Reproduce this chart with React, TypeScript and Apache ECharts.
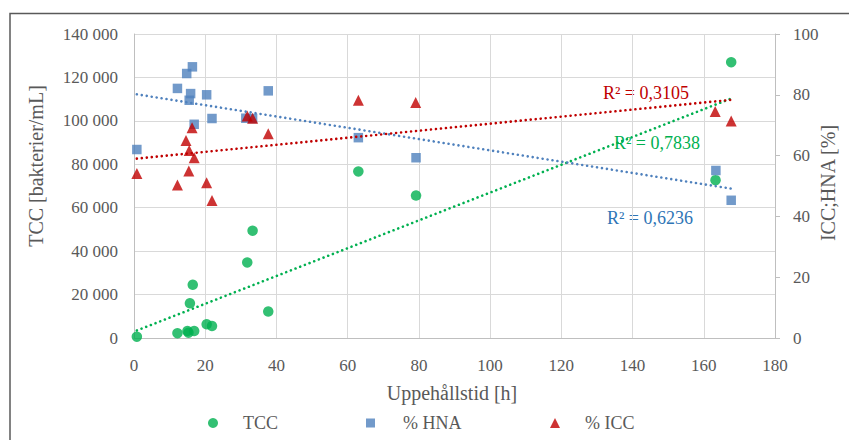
import React, { useEffect, useRef } from "react";
import * as echarts from "echarts";

// ---- Data ----
const tccHours = [0.8, 12.2, 15.0, 15.3, 15.7, 16.5, 16.9, 20.4, 21.9, 31.8, 33.3, 37.7, 63.0, 79.2, 163.3, 167.7];
const tccValues = [600, 2200, 3200, 2450, 16000, 24500, 3200, 6300, 5500, 34800, 49400, 12200, 76700, 65600, 72700, 127000];

const hnaHours = [0.8, 12.2, 14.8, 15.5, 15.9, 16.4, 16.9, 20.4, 21.9, 31.4, 33.3, 37.7, 63.0, 79.2, 163.4, 167.7];
const hnaValues = [62.0, 82.1, 87.0, 78.2, 80.4, 89.2, 70.3, 80.0, 72.2, 72.3, 72.2, 81.3, 65.9, 59.3, 55.1, 45.3];

const iccHours = [0.8, 12.2, 14.6, 15.4, 15.5, 16.3, 16.9, 20.4, 21.9, 31.8, 33.3, 37.7, 63.0, 79.1, 163.2, 167.7];
const iccValues = [54.1, 50.3, 65.0, 54.9, 61.7, 69.2, 59.3, 51.1, 45.2, 73.0, 72.3, 67.2, 78.2, 77.5, 74.5, 71.4];

const r2Labels = ["R² = 0,7838", "R² = 0,6236", "R² = 0,3105"];
const seriesNames = ["TCC", "% HNA", "% ICC"];

const xAxisTitle = "Uppehållstid [h]";
const leftAxisTitle = "TCC [bakterier/mL]";
const rightAxisTitle = "ICC;HNA [%]";

const FONT = "'Liberation Serif', 'DejaVu Serif', serif";
const TEXT = "#595959";

function pairs(xs: number[], ys: number[]) {
  return xs.map((x, i) => [x, ys[i]]);
}

function trend(xs: number[], ys: number[]) {
  const n = xs.length;
  const mx = xs.reduce((a, b) => a + b, 0) / n;
  const my = ys.reduce((a, b) => a + b, 0) / n;
  let sxy = 0;
  let sxx = 0;
  for (let i = 0; i < n; i++) {
    sxy += (xs[i] - mx) * (ys[i] - my);
    sxx += (xs[i] - mx) * (xs[i] - mx);
  }
  const b = sxy / sxx;
  const a = my - b * mx;
  const x0 = Math.min(...xs);
  const x1 = Math.max(...xs);
  return [
    [x0, a + b * x0],
    [x1, a + b * x1],
  ];
}

function fmtThousands(v: number) {
  return String(v).replace(/\B(?=(\d{3})+(?!\d))/g, " ");
}

export default function App() {
  const ref = useRef<HTMLDivElement>(null);

  useEffect(() => {
    if (!ref.current) return;
    const chart = echarts.init(ref.current, undefined, { renderer: "svg" });

    const dotted = (color: string) => ({
      color,
      width: 2.6,
      type: [0.01, 5] as any,
      cap: "round" as any,
    });

    const legendBase = {
      orient: "horizontal" as const,
      top: 414,
      padding: 0,
      itemWidth: 10,
      itemHeight: 10,
      textStyle: { fontFamily: FONT, fontSize: 18, color: TEXT, padding: [0, 0, 0, 20] },
    };

    const textEl = (
      text: string,
      x: number,
      y: number,
      size: number,
      color: string,
      rotation = 0
    ) => ({
      type: "text",
      x,
      y,
      rotation,
      silent: true,
      style: {
        text,
        fill: color,
        fontSize: size,
        fontFamily: FONT,
        align: "center",
        verticalAlign: "middle",
        textAlign: "center",
        textVerticalAlign: "middle",
      },
    });

    chart.setOption({
      animation: false,
      backgroundColor: "#ffffff",
      textStyle: { fontFamily: FONT },
      grid: { left: 134, right: 74, top: 34, bottom: 102, containLabel: false },
      xAxis: {
        type: "value",
        min: 0,
        max: 180,
        interval: 20,
        axisLine: { show: true, lineStyle: { color: "#bfbfbf", width: 1 } },
        axisTick: { show: false },
        axisLabel: { color: TEXT, fontSize: 17, fontFamily: FONT, margin: 19 },
        splitLine: { show: true, lineStyle: { color: "#d9d9d9", width: 1 } },
      },
      yAxis: [
        {
          type: "value",
          min: 0,
          max: 140000,
          interval: 20000,
          axisLine: { show: true, lineStyle: { color: "#bfbfbf", width: 1 } },
          axisTick: { show: false },
          axisLabel: {
            color: TEXT,
            fontSize: 17,
            fontFamily: FONT,
            margin: 16,
            formatter: (v: number) => fmtThousands(v),
          },
          splitLine: { show: true, lineStyle: { color: "#d9d9d9", width: 1 } },
        },
        {
          type: "value",
          position: "right",
          min: 0,
          max: 100,
          interval: 20,
          axisLine: { show: true, lineStyle: { color: "#bfbfbf", width: 1 } },
          axisTick: { show: true, inside: false, length: 5, lineStyle: { color: "#bfbfbf" } },
          axisLabel: { color: TEXT, fontSize: 17, fontFamily: FONT, margin: 18 },
          splitLine: { show: false },
        },
      ],
      legend: [
        { ...legendBase, left: 208, data: [{ name: seriesNames[0], icon: "circle" }] },
        { ...legendBase, left: 366, itemWidth: 9, itemHeight: 9, data: [{ name: seriesNames[1], icon: "rect" }], textStyle: { ...legendBase.textStyle, padding: [0, 0, 0, 23] } },
        { ...legendBase, left: 550, data: [{ name: seriesNames[2], icon: "triangle" }] },
      ],
      series: [
        {
          name: seriesNames[0],
          type: "scatter",
          yAxisIndex: 0,
          symbol: "circle",
          symbolSize: 10.5,
          itemStyle: { color: "#00B050" },
          data: pairs(tccHours, tccValues),
          z: 3,
        },
        {
          name: seriesNames[1],
          type: "scatter",
          yAxisIndex: 1,
          symbol: "rect",
          symbolSize: 9.5,
          itemStyle: { color: "#4F81BD" },
          data: pairs(hnaHours, hnaValues),
          z: 3,
        },
        {
          name: seriesNames[2],
          type: "scatter",
          yAxisIndex: 1,
          symbol: "triangle",
          symbolSize: 11,
          itemStyle: { color: "#C00000" },
          data: pairs(iccHours, iccValues),
          z: 4,
        },
        {
          name: "Linjär (TCC)",
          type: "line",
          yAxisIndex: 0,
          showSymbol: false,
          silent: true,
          lineStyle: dotted("#00B050"),
          data: trend(tccHours, tccValues),
          z: 5,
        },
        {
          name: "Linjär (% HNA)",
          type: "line",
          yAxisIndex: 1,
          showSymbol: false,
          silent: true,
          lineStyle: dotted("#4F81BD"),
          data: trend(hnaHours, hnaValues),
          z: 5,
        },
        {
          name: "Linjär (% ICC)",
          type: "line",
          yAxisIndex: 1,
          showSymbol: false,
          silent: true,
          lineStyle: dotted("#C00000"),
          data: trend(iccHours, iccValues),
          z: 5,
        },
      ],
      graphic: [
        {
          type: "rect",
          silent: true,
          shape: { x: 10, y: 13.5, width: 900, height: 500 },
          style: { fill: "none", stroke: "#595959", lineWidth: 1.5 },
        },
        textEl(xAxisTitle, 452, 393, 20, TEXT),
        textEl(leftAxisTitle, 36, 166, 20, TEXT, Math.PI / 2),
        textEl(rightAxisTitle, 828, 183, 20, TEXT, Math.PI / 2),
        textEl(r2Labels[2], 646, 93, 18, "#C00000"),
        textEl(r2Labels[0], 657, 143, 18, "#00B050"),
        textEl(r2Labels[1], 650, 218, 18, "#2E75B6"),
      ],
    });

    return () => {
      chart.dispose();
    };
  }, []);

  return (
    <div
      ref={ref}
      style={{ position: "fixed", left: 0, top: 0, width: 849, height: 440 }}
    />
  );
}
